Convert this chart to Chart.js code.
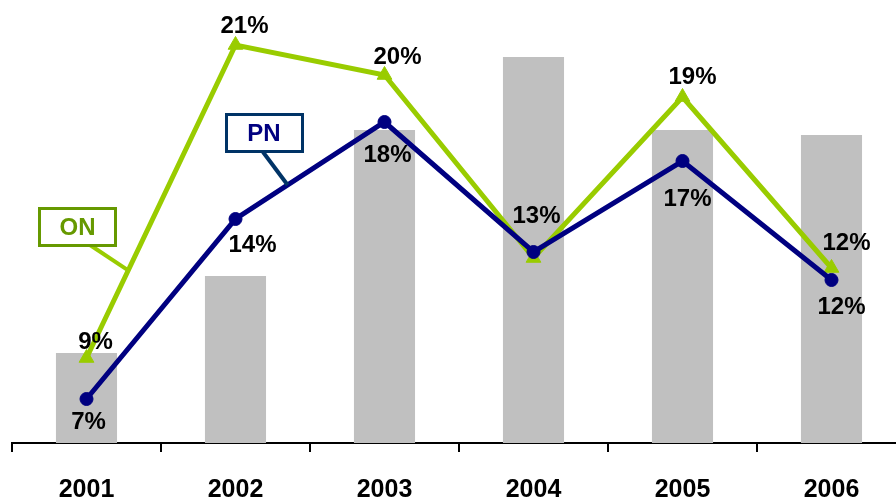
<!DOCTYPE html>
<html>
<head>
<meta charset="utf-8">
<script src="https://cdn.jsdelivr.net/npm/chart.js@4"></script>
<style>
  html, body { margin: 0; padding: 0; background: #ffffff; overflow: hidden; }
  #outer { width: 896px; height: 500px; overflow: hidden; position: relative; }
  #inner { width: 906px; height: 500px; position: relative; }
  canvas { display: block; }
</style>
</head>
<body>
<div id="outer"><div id="inner"><canvas id="c" width="906" height="500"></canvas></div></div>
<script>
// ---- data ----
const categories = ['2001', '2002', '2003', '2004', '2005', '2006'];
const barValues  = [90, 167, 313, 386, 313, 308];          // grey bars (relative height)
const onValues   = [8.76, 21.28, 20.08, 12.76, 19.2, 12.36]; // ON (%)
const pnValues   = [7.12, 14.32, 18.2, 13.0, 16.64, 11.88];  // PN (%)
const pnLabelShown = [true, true, true, false, true, true];

// ---- label placement (style only) ----
const onLabelDx = [9, 9, 13, 3, 10, 15];
const onLabelDy = [-16, -19, -18, -42, -20, -25];
const pnLabelDx = [2, 17, 3, 0, 5, 10];
const pnLabelDy = [23, 26, 33, 0, 38, 27];

const GREEN = '#99CC00';
const GREEN_DARK = '#669900';
const NAVY = '#000080';
const NAVY_BOX = '#003366';

const labelsPlugin = {
  id: 'labelsPlugin',
  afterDatasetsDraw(chart) {
    const ctx = chart.ctx;
    const onMeta = chart.getDatasetMeta(1);
    const pnMeta = chart.getDatasetMeta(0);
    ctx.save();

    // ON callout: leader to point on segment 2001->2002
    const a0 = onMeta.data[0], a1 = onMeta.data[1];
    const tOn = 0.28;
    const onX = a0.x + (a1.x - a0.x) * tOn, onY = a0.y + (a1.y - a0.y) * tOn;
    ctx.strokeStyle = GREEN; ctx.lineWidth = 4; ctx.lineCap = 'butt';
    ctx.beginPath(); ctx.moveTo(90, 245); ctx.lineTo(onX, onY); ctx.stroke();
    ctx.fillStyle = '#ffffff';
    ctx.fillRect(39, 208, 76, 37);
    ctx.strokeStyle = GREEN_DARK; ctx.lineWidth = 3;
    ctx.strokeRect(39.5, 208.5, 76, 37);
    ctx.fillStyle = GREEN_DARK;
    ctx.font = 'bold 24px "Liberation Sans", Arial, sans-serif';
    ctx.textAlign = 'center'; ctx.textBaseline = 'middle';
    ctx.fillText('ON', 77.5, 228);

    // PN callout: leader to point on segment 2002->2003
    const b0 = pnMeta.data[1], b1 = pnMeta.data[2];
    const tPn = 0.35;
    const pnX = b0.x + (b1.x - b0.x) * tPn, pnY = b0.y + (b1.y - b0.y) * tPn;
    ctx.strokeStyle = NAVY_BOX; ctx.lineWidth = 4;
    ctx.beginPath(); ctx.moveTo(263, 152); ctx.lineTo(pnX, pnY); ctx.stroke();
    ctx.fillStyle = '#ffffff';
    ctx.fillRect(226, 114, 76, 37);
    ctx.strokeStyle = NAVY_BOX; ctx.lineWidth = 3;
    ctx.strokeRect(226.5, 114.5, 76, 37);
    ctx.fillStyle = NAVY;
    ctx.fillText('PN', 264, 134);

    // data labels
    ctx.fillStyle = '#000000';
    ctx.font = 'bold 24px "Liberation Sans", Arial, sans-serif';
    onMeta.data.forEach((p, i) => {
      ctx.fillText(Math.round(onValues[i]) + '%', p.x + onLabelDx[i], p.y + onLabelDy[i]);
    });
    pnMeta.data.forEach((p, i) => {
      if (!pnLabelShown[i]) return;
      ctx.fillText(Math.round(pnValues[i]) + '%', p.x + pnLabelDx[i], p.y + pnLabelDy[i]);
    });
    ctx.restore();
  }
};

new Chart(document.getElementById('c'), {
  type: 'bar',
  data: {
    labels: categories,
    datasets: [
      {
        type: 'line', label: 'PN', data: pnValues, yAxisID: 'yLine', order: 0,
        borderColor: NAVY, backgroundColor: NAVY, borderWidth: 5,
        pointStyle: 'circle', pointRadius: 6.5, pointBorderWidth: 1,
        pointBackgroundColor: NAVY, pointBorderColor: NAVY, tension: 0, fill: false, clip: false
      },
      {
        type: 'line', label: 'ON', data: onValues, yAxisID: 'yLine', order: 1,
        borderColor: GREEN, backgroundColor: GREEN, borderWidth: 5,
        pointStyle: 'triangle', pointRadius: 8.5, pointBorderWidth: 1,
        pointBackgroundColor: GREEN, pointBorderColor: GREEN, tension: 0, fill: false, clip: false
      },
      {
        type: 'bar', label: 'bars', data: barValues, yAxisID: 'yBar', order: 2,
        backgroundColor: '#C0C0C0', borderWidth: 0,
        barPercentage: 0.41, categoryPercentage: 1.0
      }
    ]
  },
  options: {
    responsive: false,
    animation: false,
    layout: { autoPadding: false, padding: { left: 12, right: 0, top: 0, bottom: 0 } },
    plugins: { legend: { display: false }, tooltip: { enabled: false } },
    scales: {
      x: {
        offset: true,
        grid: { offset: true, drawOnChartArea: false, drawTicks: true, tickLength: 9, color: '#000000', lineWidth: 2 },
        border: { display: true, color: '#000000', width: 2 },
        ticks: { color: '#000000', padding: 26, font: { family: '"Liberation Sans", Arial, sans-serif', size: 25, weight: 'bold', lineHeight: 1.0 } },
        afterFit(s) { s.height = 57; }
      },
      yBar: { display: false, min: 0, max: 443 },
      yLine: { display: false, min: 5.36, max: 23.08 }
    }
  },
  plugins: [labelsPlugin]
});
</script>
</body>
</html>
